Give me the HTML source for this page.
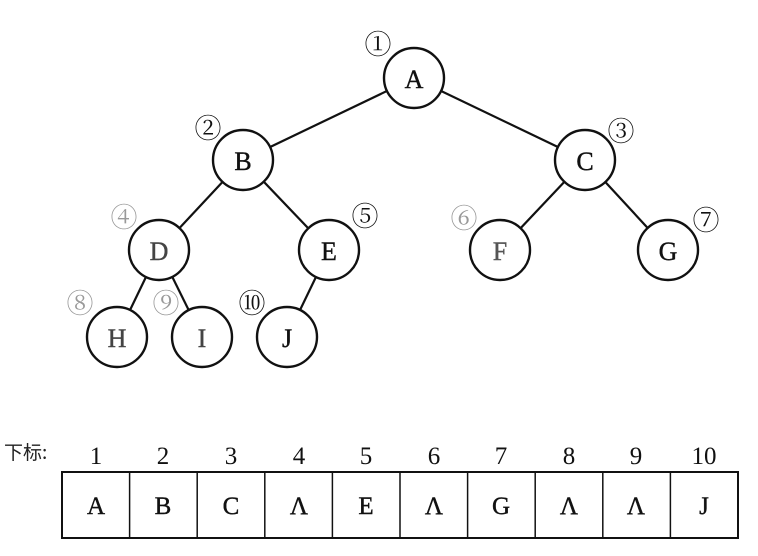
<!DOCTYPE html>
<html><head><meta charset="utf-8"><style>
html,body{margin:0;padding:0;background:#fff;}
svg{display:block;}
text{font-family:"Liberation Serif","Noto Serif CJK SC",serif;}
</style></head><body>
<svg width="758" height="556" viewBox="0 0 758 556" xmlns="http://www.w3.org/2000/svg">
<g stroke="#111" stroke-width="2.2" fill="none">
<line x1="414" y1="78" x2="243" y2="160"/>
<line x1="414" y1="78" x2="585" y2="160"/>
<line x1="243" y1="160" x2="159" y2="250"/>
<line x1="243" y1="160" x2="329" y2="250"/>
<line x1="585" y1="160" x2="500" y2="250"/>
<line x1="585" y1="160" x2="668" y2="250"/>
<line x1="159" y1="250" x2="117" y2="337"/>
<line x1="159" y1="250" x2="202" y2="337"/>
<line x1="329" y1="250" x2="287" y2="337"/>
</g>
<g stroke="#111" stroke-width="2.4" fill="#fff">
<circle cx="414" cy="78" r="30"/>
<circle cx="243" cy="160" r="30"/>
<circle cx="585" cy="160" r="30"/>
<circle cx="159" cy="250" r="30"/>
<circle cx="329" cy="250" r="30"/>
<circle cx="500" cy="250" r="30"/>
<circle cx="668" cy="250" r="30"/>
<circle cx="117" cy="337" r="30"/>
<circle cx="202" cy="337" r="30"/>
<circle cx="287" cy="337" r="30"/>
</g>
<g font-size="26" text-anchor="middle" fill="#111" stroke="#111" stroke-width="0.4">
<text x="414" y="88">A</text>
<text x="243" y="170">B</text>
<text x="585" y="170">C</text>
<text x="159" y="260" fill="#444" stroke="#444">D</text>
<text x="329" y="260">E</text>
<text x="500" y="260" fill="#555" stroke="#555">F</text>
<text x="668" y="260">G</text>
<text x="117" y="347" fill="#444" stroke="#444">H</text>
<text x="202" y="347" fill="#444" stroke="#444">I</text>
<text x="287" y="347">J</text>
</g>
<g font-size="27" text-anchor="middle" fill="#111">
<text x="378" y="54">①</text>
<text x="208" y="138">②</text>
<text x="621" y="141">③</text>
<text x="124" y="227" fill="#999">④</text>
<text x="365" y="226">⑤</text>
<text x="464" y="228" fill="#999">⑥</text>
<text x="706" y="230">⑦</text>
<text x="80" y="313" fill="#999">⑧</text>
<text x="166" y="313" fill="#999">⑨</text>
<text x="252" y="313">⑩</text>
</g>
<text x="4" y="459" font-size="19" fill="#222" style="font-family:'Noto Sans CJK SC',sans-serif">下标:</text>
<g font-size="25" text-anchor="middle" fill="#111">
<text x="96" y="464">1</text><text x="163" y="464">2</text><text x="231" y="464">3</text>
<text x="299" y="464">4</text><text x="366" y="464">5</text><text x="434" y="464">6</text>
<text x="501" y="464">7</text><text x="569" y="464">8</text><text x="636" y="464">9</text>
<text x="704" y="464">10</text>
</g>
<rect x="62" y="472" width="676" height="66" fill="none" stroke="#111" stroke-width="2"/>
<g stroke="#111" stroke-width="1.5">
<line x1="129.6" y1="472" x2="129.6" y2="538"/><line x1="197.2" y1="472" x2="197.2" y2="538"/>
<line x1="264.8" y1="472" x2="264.8" y2="538"/><line x1="332.4" y1="472" x2="332.4" y2="538"/>
<line x1="400" y1="472" x2="400" y2="538"/><line x1="467.6" y1="472" x2="467.6" y2="538"/>
<line x1="535.2" y1="472" x2="535.2" y2="538"/><line x1="602.8" y1="472" x2="602.8" y2="538"/>
<line x1="670.4" y1="472" x2="670.4" y2="538"/>
</g>
<g font-size="25" text-anchor="middle" fill="#111" stroke="#111" stroke-width="0.4">
<text x="96" y="514">A</text><text x="163" y="514">B</text><text x="231" y="514">C</text>
<text x="299" y="514">Λ</text><text x="366" y="514">E</text><text x="434" y="514">Λ</text>
<text x="501" y="514">G</text><text x="569" y="514">Λ</text><text x="636" y="514">Λ</text>
<text x="704" y="514">J</text>
</g>
</svg>
</body></html>
